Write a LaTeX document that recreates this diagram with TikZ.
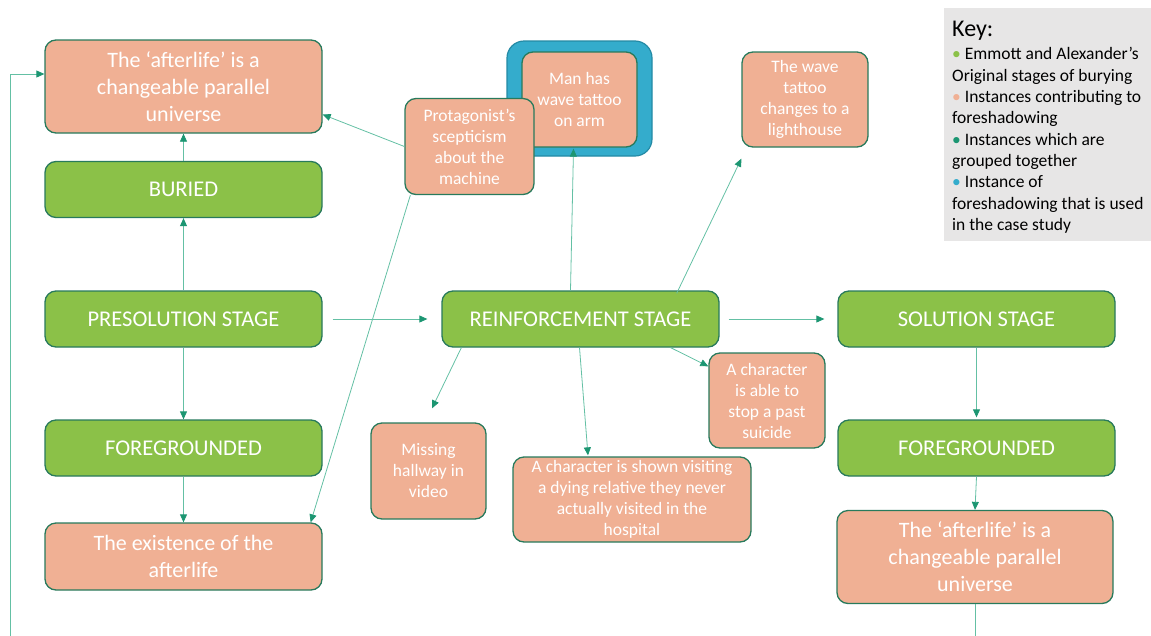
\documentclass[tikz,border=0pt]{standalone}
\usepackage{fontspec}
\setmainfont{Carlito}
\usetikzlibrary{arrows.meta}

\definecolor{stagegreen}{RGB}{139,193,72}
\definecolor{edgegreen}{RGB}{40,122,92}
\definecolor{salmon}{RGB}{240,176,148}
\definecolor{caseblue}{RGB}{52,172,204}
\definecolor{caseedge}{RGB}{36,138,165}
\definecolor{linkteal}{RGB}{100,192,164}
\definecolor{tipteal}{RGB}{28,150,114}
\definecolor{keygrey}{RGB}{231,230,230}

\begin{document}
\begin{tikzpicture}[x=1pt,y=-1pt,
  box/.style={draw=edgegreen, line width=1.3pt, rounded corners=11pt, text=white, align=center, inner sep=0pt},
  stagebox/.style={box, fill=stagegreen, minimum width=277pt, minimum height=56pt, font=\fontsize{22.5}{26}\selectfont},
  bignote/.style={box, fill=salmon, minimum width=277pt, font=\fontsize{22}{27}\selectfont},
  smallnote/.style={box, fill=salmon, font=\fontsize{17.5}{21}\selectfont},
  link/.style={draw=linkteal, line width=0.8pt, -{Triangle[length=8pt,width=7pt,fill=tipteal,color=tipteal]}},
]
\useasboundingbox (0,0) rectangle (1151,635);

% left column: stages of burying
\node[bignote, minimum height=93pt] (after1) at (183.5,86.5) {The ‘afterlife’ is a\\changeable parallel\\universe};
\node[stagebox] (buried) at (183.5,189.5) {BURIED};
\node[stagebox] (pres) at (183.5,319) {PRESOLUTION STAGE};
\node[stagebox] (fgl) at (183.5,448) {FOREGROUNDED};
\node[bignote, minimum height=67pt] (exist) at (183.5,556.5) {The existence of the\\afterlife};

% middle and right columns
\node[stagebox] (reinf) at (580.5,319) {REINFORCEMENT STAGE};
\node[stagebox] (sol) at (976.5,319) {SOLUTION STAGE};
\node[stagebox] (fgr) at (976.5,448) {FOREGROUNDED};
\node[bignote, minimum width=276pt, minimum height=93pt] (after2) at (975,557) {The ‘afterlife’ is a\\changeable parallel\\universe};

% foreshadowing instances
\node[draw=caseedge, fill=caseblue, line width=1.2pt, rounded corners=17pt, minimum width=145pt, minimum height=115pt, inner sep=0pt] (caseframe) at (579.5,98.5) {};
\node[smallnote, minimum width=115pt, minimum height=95pt] (tattoo) at (579.5,99.5) {Man has\\wave tattoo\\on arm};
\node[smallnote, minimum width=129pt, minimum height=96pt] (prot) at (469.5,146.5) {Protagonist’s\\scepticism\\about the\\machine};
\node[smallnote, minimum width=126pt, minimum height=95pt] (wave) at (805,99.5) {The wave\\tattoo\\changes to a\\lighthouse};
\node[smallnote, minimum width=116pt, minimum height=95pt] (able) at (767,400.5) {A character\\is able to\\stop a past\\suicide};
\node[smallnote, minimum width=115pt, minimum height=96pt] (missing) at (428.5,471) {Missing\\hallway in\\video};
\node[smallnote, minimum width=238pt, minimum height=85pt] (visit) at (632,499.5) {A character is shown visiting\\a dying relative they never\\actually visited in the\\hospital};

% key
\node[fill=keygrey, minimum width=208pt, minimum height=233pt, anchor=north west, inner sep=0pt] (key) at (944,8) {};
\node[anchor=north west, align=left, inner sep=0pt, font=\fontsize{17.5}{21.3}\selectfont] (keytext) at ([xshift=8pt,yshift=-13pt]key.north west)
  {{\fontsize{24}{26}\selectfont Key:}\\[2pt]
   {\color{stagegreen}\textbullet}\ Emmott and Alexander’s\\
   Original stages of burying\\
   {\color{salmon}\textbullet}\ Instances contributing to\\
   foreshadowing\\
   {\color{tipteal}\textbullet}\ Instances which are\\
   grouped together\\
   {\color{caseblue}\textbullet}\ Instance of\\
   foreshadowing that is used\\
   in the case study};

% connectors
\draw[link] (buried.north) -- (after1.south);
\draw[link] (pres.north) -- (buried.south);
\draw[link] (pres.south) -- (fgl.north);
\draw[link] (fgl.south) -- (exist.north);
\draw[link] ([xshift=10pt]pres.east) -- ([xshift=-14pt]reinf.west);
\draw[link] ([xshift=9pt]reinf.east) -- ([xshift=-13pt]sol.west);
\draw[link] (prot.west) -- ([yshift=-28pt]after1.east);
\draw[link] ([xshift=6pt]prot.south west) -- ([xshift=-12pt]exist.north east);
\draw[link] ([xshift=-10pt]reinf.north) -- ([xshift=-6pt,yshift=-1pt]tattoo.south);
\draw[link] ([xshift=-43pt,yshift=-3pt]reinf.north east) -- ([yshift=-11pt]wave.south west);
\draw[link] ([xshift=20pt]reinf.south west) -- ([xshift=3.5pt,yshift=14pt]missing.north);
\draw[link] ([xshift=-1pt]reinf.south) -- ([xshift=-44pt,yshift=1pt]visit.north);
\draw[link] ([xshift=-49pt]reinf.south east) -- ([yshift=-14pt]able.north west);
\draw[link] (sol.south) -- ([yshift=2pt]fgr.north);
\draw[link] (fgr.south) -- (after2.north);

% return path from the solution back to the first instance
\coordinate (loopR) at (975,660);
\coordinate (loopL) at (10,660);
\draw[link] (after2.south) -- (loopR) -- (loopL) |- ([yshift=12.5pt]after1.west);
\end{tikzpicture}
\end{document}
